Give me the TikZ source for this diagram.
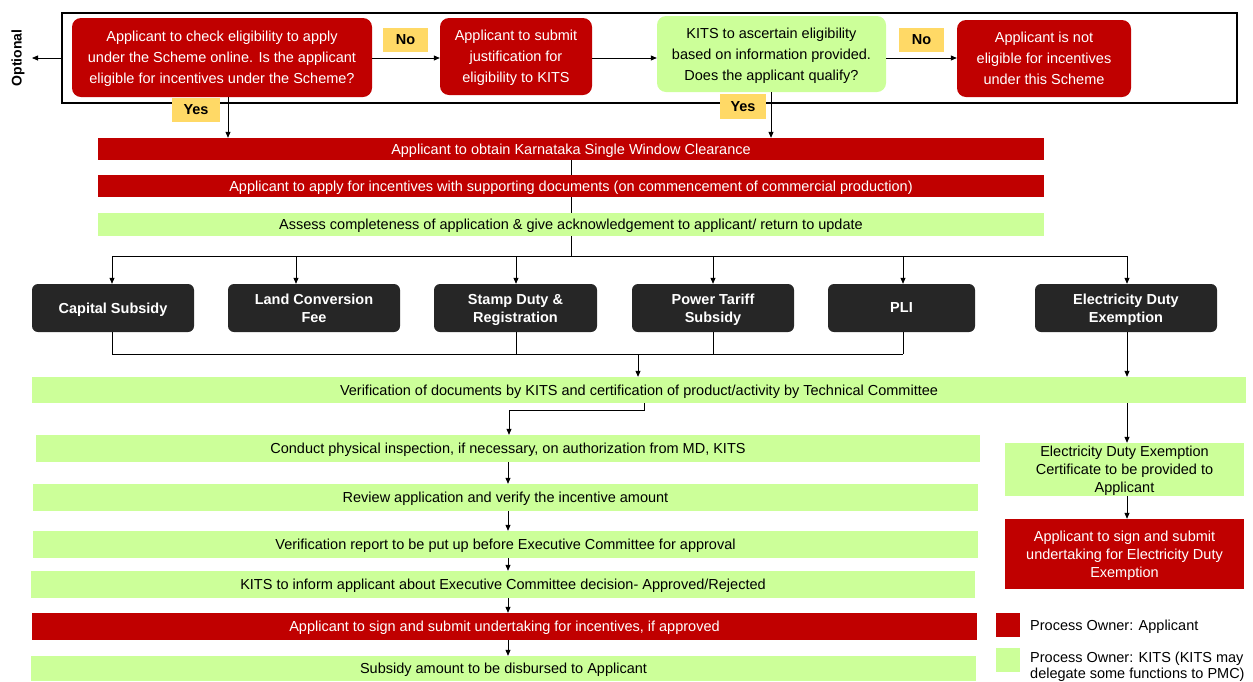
\documentclass[tikz,border=0pt]{standalone}
\usepackage{fontspec}
\setmainfont{Liberation Sans}
\usetikzlibrary{arrows.meta}
\definecolor{kred}{RGB}{192,0,0}
\definecolor{kgreen}{RGB}{204,255,153}
\definecolor{kdark}{RGB}{38,38,38}
\definecolor{kyel}{RGB}{255,217,102}
\begin{document}
\begin{tikzpicture}[x=1pt,y=-1pt,
 base/.style={inner sep=0pt, align=center, text depth=0pt, font=\fontsize{14.5}{21}\selectfont},
 redbox/.style={base, fill=kred, text=white, rounded corners=9pt},
 greenbox/.style={base, fill=kgreen, text=black, rounded corners=9pt},
 redbar/.style={base, fill=kred, text=white, font=\fontsize{14.5}{18}\selectfont},
 greenbar/.style={base, fill=kgreen, text=black, font=\fontsize{14.5}{18}\selectfont},
 darkbox/.style={base, fill=kdark, text=white, rounded corners=6pt, minimum height=48pt, font=\fontsize{14.5}{18}\selectfont\bfseries},
 tag/.style={base, fill=kyel, font=\fontsize{14.5}{18}\selectfont\bfseries},
 arr/.style={-{Triangle[length=6pt,width=5pt]}, line width=0.8pt},
 ln/.style={line width=0.8pt},
]
\useasboundingbox (0,0) rectangle (1253,681);

% top frame
\node[draw, line width=2.5pt, minimum width=1175pt, minimum height=90pt, inner sep=0pt] (frame) at (649.5,58) {};
\node[inner sep=0pt, rotate=90, font=\fontsize{14}{16}\selectfont\bfseries] (opt) at (18,58) {Optional};
\coordinate (optend) at (32,58);
\draw[arr] (frame.west) -- (optend);

\node[redbox, minimum width=300pt, minimum height=79pt] (q1) at (222,57.5) {Applicant to check eligibility to apply\\under the Scheme online.  Is the applicant\\eligible for incentives under the Scheme?};
\node[redbox, minimum width=152pt, minimum height=77pt] (q2) at (516,56.5) {Applicant to submit\\justification for\\eligibility to KITS};
\node[greenbox, minimum width=229pt, minimum height=76pt] (q3) at (771.5,54) {KITS to ascertain eligibility\\based on information provided.\\Does the applicant qualify?};
\node[redbox, minimum width=174pt, minimum height=77pt] (q4) at (1044,58.5) {Applicant is not\\eligible for incentives\\under this Scheme};

\node[tag, minimum width=45pt, minimum height=24pt] (no1) at (405.5,40) {No};
\node[tag, minimum width=45pt, minimum height=24pt] (no2) at (921.5,40) {No};
\node[tag, minimum width=48pt, minimum height=24pt] (yes1) at (196,110) {Yes};
\node[tag, minimum width=46pt, minimum height=25pt] (yes2) at (743,106.5) {Yes};

\coordinate (row) at (0,58);
\draw[arr] (q1.east |- row) -- (q2.west |- row);
\draw[arr] (q2.east |- row) -- (q3.west |- row);
\draw[arr] (q3.east |- row) -- (q4.west |- row);

% bars
\node[redbar, minimum width=946pt, minimum height=22pt] (bar1) at (571,149) {Applicant to obtain Karnataka Single Window Clearance};
\node[redbar, minimum width=946pt, minimum height=22pt] (bar2) at (571,186) {Applicant to apply for incentives with supporting documents (on commencement of commercial production)};
\node[greenbar, minimum width=946pt, minimum height=23pt] (bar3) at (571,224.5) {Assess completeness of application \& give acknowledgement to applicant/ return to update};

\coordinate (y1) at (228,0);
\coordinate (y2) at (771,0);
\draw[arr] (q1.south -| y1) -- (bar1.north -| y1);
\draw[arr] (q3.south -| y2) -- (bar1.north -| y2);
\draw[ln] (bar1.south) -- (bar2.north);
\draw[ln] (bar2.south) -- (bar3.north);

% dark boxes
\node[darkbox, minimum width=162pt] (cs) at (113,308) {Capital Subsidy};
\node[darkbox, minimum width=172pt] (lcf) at (314,308) {Land Conversion\\Fee};
\node[darkbox, minimum width=163pt] (sdr) at (515.5,308) {Stamp Duty \&\\Registration};
\node[darkbox, minimum width=162pt] (pts) at (713,308) {Power Tariff\\Subsidy};
\node[darkbox, minimum width=147pt] (pli) at (901.5,308) {PLI};
\node[darkbox, minimum width=182pt] (ede) at (1126,308) {Electricity Duty\\Exemption};

\coordinate (d1) at (112,256);
\coordinate (d2) at (296,256);
\coordinate (d3) at (516,256);
\coordinate (d4) at (713,256);
\coordinate (d5) at (903,256);
\coordinate (d6) at (1127,256);
\draw[ln] (bar3.south) -- (bar3.south |- d1);
\draw[ln] (d1) -- (d6);
\draw[arr] (d1) -- (cs.north -| d1);
\draw[arr] (d2) -- (lcf.north -| d2);
\draw[arr] (d3) -- (sdr.north -| d3);
\draw[arr] (d4) -- (pts.north -| d4);
\draw[arr] (d5) -- (pli.north -| d5);
\draw[arr] (d6) -- (ede.north -| d6);

% verification bar
\node[greenbar, minimum width=1214pt, minimum height=26pt] (ver) at (639,390) {Verification of documents by KITS and certification of product/activity by Technical Committee};

\coordinate (c1) at (112,354);
\coordinate (c5) at (903,354);
\coordinate (cm) at (638,354);
\draw[ln] (cs.south -| c1) -- (c1);
\draw[ln] (sdr.south -| d3) -- (d3 |- c1);
\draw[ln] (pts.south -| d4) -- (d4 |- c1);
\draw[ln] (pli.south -| c5) -- (c5);
\draw[ln] (c1) -- (c5);
\draw[arr] (cm) -- (ver.north -| cm);
\draw[arr] (ede.south -| d6) -- (ver.north -| d6);

% left column
\node[greenbar, minimum width=944pt, minimum height=27pt] (insp) at (508,448.5) {Conduct physical inspection, if necessary, on authorization from MD, KITS};
\node[greenbar, minimum width=945pt, minimum height=27pt] (rev) at (505.5,497.5) {Review application and verify the incentive amount};
\node[greenbar, minimum width=945pt, minimum height=27pt] (rep) at (505.5,544.5) {Verification report to be put up before Executive Committee for approval};
\node[greenbar, minimum width=944pt, minimum height=27pt] (inf) at (503,584.5) {KITS to inform applicant about Executive Committee decision- Approved/Rejected};
\node[redbar, minimum width=945pt, minimum height=27pt] (sign) at (504.5,626.5) {Applicant to sign and submit undertaking for incentives, if approved};
\node[greenbar, minimum width=945pt, minimum height=25pt] (sub) at (503.5,668.5) {Subsidy amount to be disbursed to Applicant};

\coordinate (v1) at (644,410);
\coordinate (v2) at (509,410);
\draw[ln] (ver.south -| v1) -- (v1) -- (v2);
\draw[arr] (v2) -- (insp.north -| v2);
\coordinate (lx) at (508,0);
\draw[arr] (insp.south -| lx) -- (rev.north -| lx);
\draw[arr] (rev.south -| lx) -- (rep.north -| lx);
\draw[arr] (rep.south -| lx) -- (inf.north -| lx);
\draw[arr] (inf.south -| lx) -- (sign.north -| lx);
\draw[arr] (sign.south -| lx) -- (sub.north -| lx);

% right column
\node[greenbar, minimum width=239pt, minimum height=53pt] (cert) at (1124.5,469.5) {Electricity Duty Exemption\\Certificate to be provided to\\Applicant};
\node[redbar, minimum width=239pt, minimum height=70pt] (edsign) at (1124.5,554) {Applicant to sign and submit\\undertaking for Electricity Duty\\Exemption};
\draw[arr] (ver.south -| d6) -- (cert.north -| d6);
\draw[arr] (cert.south -| d6) -- (edsign.north -| d6);

% legend
\node[fill=kred, minimum size=24pt, inner sep=0pt] (lr) at (1008,625) {};
\node[base, anchor=west] (lrt) at (1030,625) {Process Owner: Applicant};
\node[fill=kgreen, minimum size=24pt, inner sep=0pt] (lg) at (1008,660) {};
\node[base, anchor=west, align=left, font=\fontsize{14.5}{16.5}\selectfont] (lgt) at (1030,665) {Process Owner: KITS (KITS may\\delegate some functions to PMC)};
\end{tikzpicture}
\end{document}
